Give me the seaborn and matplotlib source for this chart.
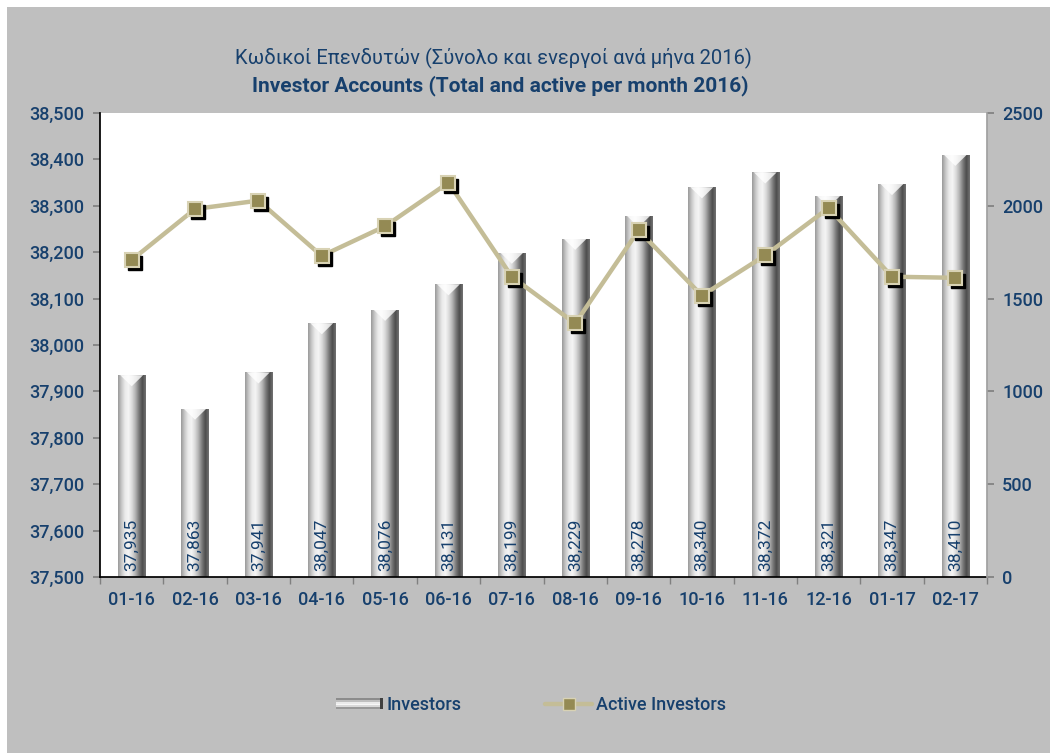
import numpy as np
import pandas as pd
import matplotlib
matplotlib.use("Agg")
import matplotlib.pyplot as plt
import matplotlib.transforms as mtransforms
from matplotlib.patches import Rectangle, Polygon
from matplotlib.lines import Line2D
from matplotlib.legend_handler import HandlerPatch
import seaborn as sns

months = ["01-16", "02-16", "03-16", "04-16", "05-16", "06-16", "07-16",
          "08-16", "09-16", "10-16", "11-16", "12-16", "01-17", "02-17"]
investors = [37935, 37863, 37941, 38047, 38076, 38131, 38199,
             38229, 38278, 38340, 38372, 38321, 38347, 38410]
active = [1708, 1983, 2028, 1730, 1890, 2125, 1618,
          1366, 1868, 1516, 1733, 1988, 1618, 1612]
left_ticks = [37500, 37600, 37700, 37800, 37900, 38000, 38100, 38200, 38300, 38400, 38500]
right_ticks = [0, 500, 1000, 1500, 2000, 2500]
title_gr = "Κωδικοί Επενδυτών (Σύνολο και ενεργοί ανά μήνα 2016)"
title_en = "Investor Accounts (Total and active per month 2016)"

sns.set_theme(style="white")
plt.rcParams["font.family"] = ["Roboto", "DejaVu Sans"]

BLUE = "#17406D"
BG = "#BFBFBF"
df = pd.DataFrame({"month": months, "investors": investors, "active": active})

fig = plt.figure(figsize=(10.5, 7.53), dpi=100, facecolor="white")
fig.patches.append(Rectangle((7 / 1050, 0), 1, 1 - 7 / 753, transform=fig.transFigure,
                             facecolor=BG, edgecolor="none", zorder=-10))
ax = fig.add_axes([100 / 1050, 1 - 577 / 753, 887 / 1050, 464 / 753])
ax.set_facecolor("white")

sns.barplot(data=df, x="month", y="investors", ax=ax, width=0.43,
            color="#cccccc", saturation=1, edgecolor="none")
ax.set_ylim(37500, 38500)

# cylinder gradient
grad_cols = np.array([
    [0.60, 0.60, 0.60], [0.78, 0.78, 0.78], [0.92, 0.92, 0.92], [0.96, 0.96, 0.96],
    [0.86, 0.86, 0.86], [0.70, 0.70, 0.70], [0.48, 0.48, 0.48], [0.30, 0.30, 0.30],
    [0.45, 0.45, 0.45]])
xs = np.linspace(0, 1, 200)
pos = np.linspace(0, 1, len(grad_cols))
img = np.stack([np.interp(xs, pos, grad_cols[:, c]) for c in range(3)], axis=-1)[None, :, :]
for p in list(ax.patches):
    x0 = p.get_x()
    w, h = p.get_width(), p.get_y() + p.get_height()
    p.set_facecolor("none")
    im = ax.imshow(img, extent=(x0, x0 + w, 37500, h), aspect="auto", zorder=2,
                   interpolation="bilinear")
    im.set_clip_path(p)
    cap = Polygon([(x0 + w * 0.08, h), (x0 + w * 0.92, h), (x0 + w / 2, h - 24)],
                  closed=True, facecolor="white", edgecolor="none", alpha=0.8, zorder=3)
    ax.add_patch(cap)
ax.set_xlim(-0.5, len(months) - 0.5)

for i, v in enumerate(investors):
    ax.text(i, 37512, f"{v:,}", rotation=90, ha="center", va="bottom",
            color=BLUE, fontsize=12.5, zorder=5)

ax.set_yticks(left_ticks)
ax.set_yticklabels([f"{t:,}" for t in left_ticks])
ax.set_xlabel("")
ax.set_ylabel("")
ax.tick_params(axis="y", colors="#808080", labelcolor=BLUE, labelsize=13,
               length=5, direction="out", left=True, pad=6)
ax.tick_params(axis="x", colors="#808080", labelcolor=BLUE, labelsize=13,
               length=0, pad=10)
for lab in ax.get_yticklabels() + ax.get_xticklabels():
    lab.set_fontweight("medium")
ax.set_xticks(np.arange(len(months) + 1) - 0.5, minor=True)
ax.tick_params(axis="x", which="minor", length=5, colors="#808080", bottom=True)
ax.spines["left"].set_color("black")
ax.spines["bottom"].set_color("black")
ax.spines["top"].set_visible(False)
ax.spines["right"].set_visible(False)

ax2 = ax.twinx()
ax2.set_ylim(0, 2500)
ax2.set_yticks(right_ticks)
ax2.tick_params(axis="y", colors="#808080", labelcolor=BLUE, labelsize=13,
                length=5, direction="out", right=True, pad=6)
for lab in ax2.get_yticklabels():
    lab.set_fontweight("medium")
for s in ["top", "left", "bottom"]:
    ax2.spines[s].set_visible(False)
ax2.spines["right"].set_color("#A0A0A0")
ax2.grid(False)

sns.lineplot(data=df, x="month", y="active", ax=ax2, color="#C4BD97",
             linewidth=3.2, zorder=6, sort=False)
shadow = mtransforms.offset_copy(ax2.transData, fig=fig, x=3, y=-3, units="dots")
ax2.plot(np.arange(len(months)), active, linestyle="none", marker="s",
         markersize=10.5, color="black", transform=shadow, zorder=6.5)
ax2.plot(np.arange(len(months)), active, linestyle="none", marker="s",
         markersize=10.5, markerfacecolor="#948A54", markeredgecolor="#D8D2B4",
         markeredgewidth=1.5, zorder=7)
ax2.set_xlabel("")
ax2.set_ylabel("")
if ax2.get_legend():
    ax2.get_legend().remove()

fig.text(493 / 1050, 1 - 58 / 753, title_gr, ha="center", va="center",
         color=BLUE, fontsize=14.5)
fig.text(500 / 1050, 1 - 86 / 753, title_en, ha="center", va="center",
         color=BLUE, fontsize=15, fontweight="bold")


class GradHandler(HandlerPatch):
    def create_artists(self, legend, orig_handle, xdescent, ydescent, width,
                       height, fontsize, trans):
        arts = []
        cols = [0.55, 0.75, 0.92, 0.97, 0.85, 0.6]
        n = len(cols)
        for k, c in enumerate(cols):
            arts.append(Rectangle((-xdescent, -ydescent + height * (n - 1 - k) / n),
                                  width, height / n, facecolor=(c, c, c),
                                  edgecolor="none", transform=trans))
        arts.append(Rectangle((-xdescent + width * 0.92, -ydescent), width * 0.08,
                              height, facecolor="#404040", edgecolor="none",
                              transform=trans))
        return arts


h_bar = Rectangle((0, 0), 1, 1, facecolor="#dddddd")
h_line = Line2D([], [], color="#C4BD97", linewidth=3.2, marker="s", markersize=8,
                markerfacecolor="#948A54", markeredgecolor="#D8D2B4")
leg = fig.legend([h_bar, h_line], ["Investors", "Active Investors"],
                 loc="center", bbox_to_anchor=(531 / 1050, 1 - 705 / 753), ncol=2,
                 frameon=False, fontsize=13, handlelength=2.6, handleheight=0.55,
                 columnspacing=4.6, handletextpad=0.2,
                 handler_map={Rectangle: GradHandler()})
for t in leg.get_texts():
    t.set_color(BLUE)
    t.set_fontweight("medium")

fig.savefig("out.png", dpi=100, facecolor=fig.get_facecolor())
